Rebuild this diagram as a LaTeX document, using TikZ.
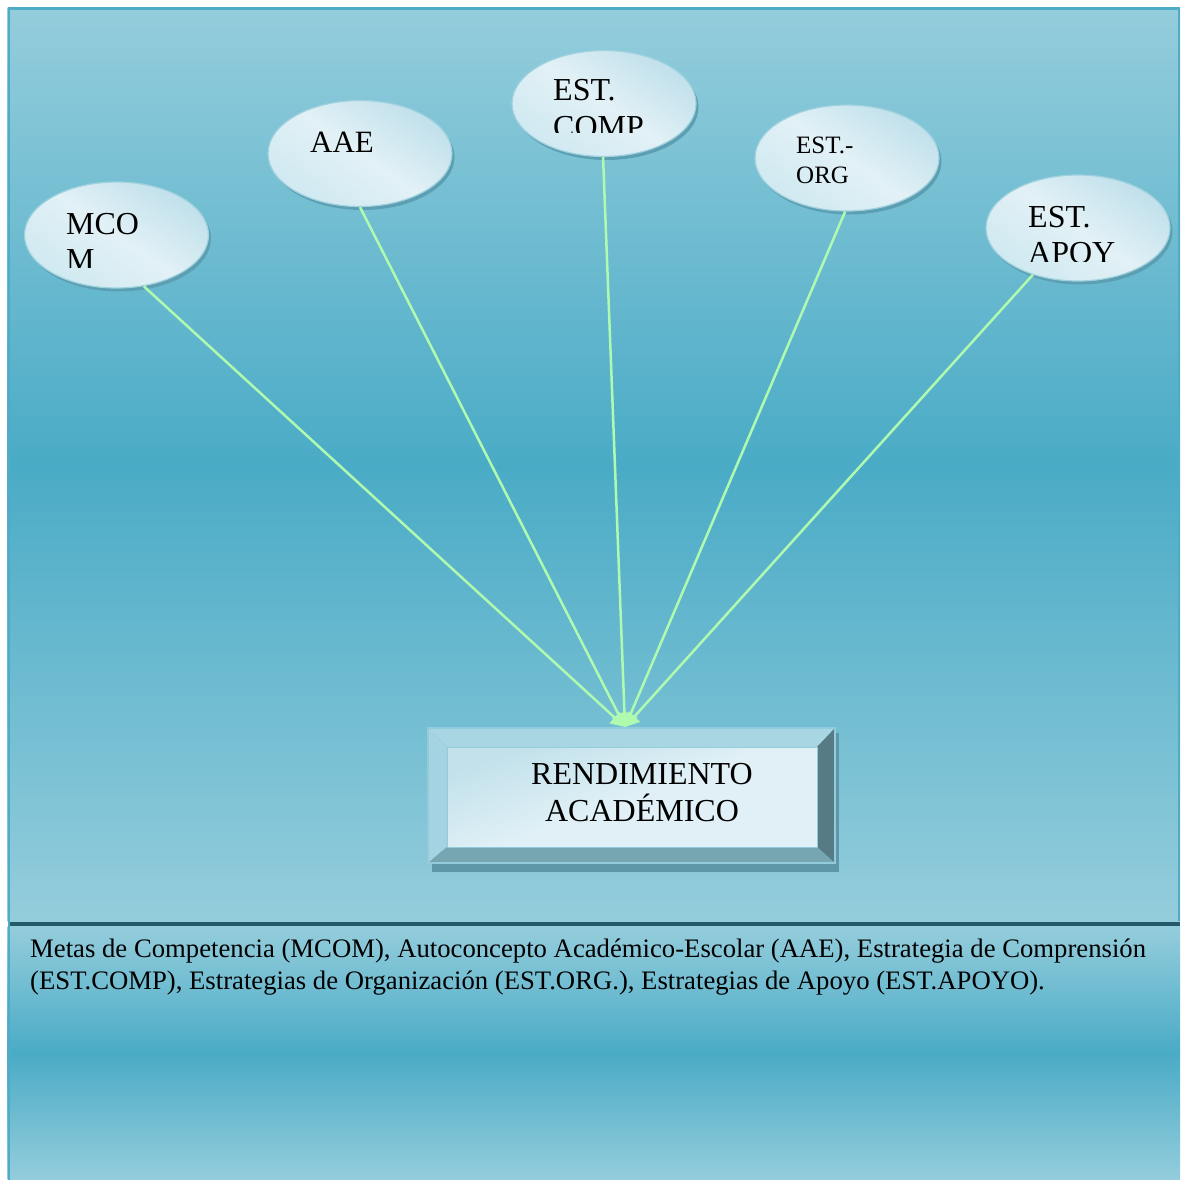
\documentclass[tikz,border=0pt]{standalone}
\usepackage{fontspec}
\setmainfont{Liberation Serif}
\usetikzlibrary{shapes.geometric,arrows.meta,shadows}

% palette
\definecolor{panelLight}{RGB}{148,205,220}
\definecolor{panelDark}{RGB}{74,171,198}
\definecolor{panelEdge}{RGB}{80,172,198}
\definecolor{sepDark}{RGB}{36,91,107}
\definecolor{ovalA}{RGB}{192,224,235}
\definecolor{ovalB}{RGB}{226,241,246}
\definecolor{ovalC}{RGB}{208,233,241}
\definecolor{ovalRim}{RGB}{160,209,223}
\definecolor{ovalShadow}{RGB}{92,158,178}
\definecolor{linkGreen}{RGB}{176,250,176}
\definecolor{bevTop}{RGB}{169,214,227}
\definecolor{bevLeft}{RGB}{165,211,225}
\definecolor{bevRight}{RGB}{86,123,132}
\definecolor{bevBottom}{RGB}{118,166,177}
\definecolor{boxShadow}{RGB}{94,152,168}
\definecolor{boxRim}{RGB}{146,204,220}
\definecolor{faceA}{RGB}{224,240,246}
\definecolor{faceB}{RGB}{194,225,235}

\begin{document}
\begin{tikzpicture}[x=1pt,y=-1pt,
  oval/.style={ellipse, minimum width=184pt, minimum height=106pt, inner sep=0pt,
    draw=ovalRim, line width=1.2pt,
    top color=ovalA, bottom color=ovalC, middle color=ovalB, shading angle=-35,
    general shadow={fill=ovalShadow, shadow xshift=2.5pt, shadow yshift=-3.5pt}},
  ovaltext/.style={anchor=base west, inner sep=0pt, align=left,
    font=\fontsize{32}{36}\selectfont},
  face/.style={rectangle, minimum width=370pt, minimum height=100pt, inner sep=0pt,
    draw=boxRim, line width=1pt,
    left color=faceB, right color=faceA, middle color=faceA, shading angle=20},
  link/.style={draw=linkGreen, line width=2.5pt, -{Triangle[length=14pt,width=15pt]}},
]
% page and panels
\fill[white] (0,0) rectangle (1180,1180);
\path[use as bounding box] (0,0) rectangle (1180,1180);
\shade[top color=panelLight, bottom color=panelLight, middle color=panelDark]
  (7.5,7.5) rectangle (1180,921);
\shade[top color=panelLight, bottom color=panelLight, middle color=panelDark]
  (7.5,926) rectangle (1180,1180);
\draw[panelEdge, line width=2.5pt] (8.75,1180) -- (8.75,8.75) -- (1180,8.75);
\draw[panelEdge, line width=2pt] (1179,8.75) -- (1179,921);
\fill[sepDark] (10,921.5) rectangle (1180,925.5);

% ovals
\node[oval] (mcom)  at (116.5,235) {};
\node[oval] (aae)   at (360,153.5) {};
\node[oval] (comp)  at (604,103.5) {};
\node[oval] (org)   at (847,158) {};
\node[oval] (apoyo) at (1078,228) {};

% oval labels (text boxes cut at their lower edge); anchors sit on the last baseline
\begin{scope}
  \clip (0,0) rectangle (1180,267);
  \node[ovaltext] (mcomtext) at (66,270) {MCO\\M};
\end{scope}
\node[ovaltext, font=\fontsize{31}{36}\selectfont] (aaetext) at (310,152) {AAE};
\begin{scope}
  \clip (0,0) rectangle (1180,133);
  \node[ovaltext] (comptext) at (553,137) {EST.\\COMP};
\end{scope}
\node[ovaltext, font=\fontsize{25}{30}\selectfont] (orgtext) at (796,183) {EST.-\\ORG};
\begin{scope}
  \clip (0,0) rectangle (1180,261);
  \node[ovaltext] (apoyotext) at (1028,263) {EST.\\APOY};
\end{scope}

% bevelled box
\fill[boxShadow] (432,733) rectangle (838.5,871.5);
\fill[bevTop]    (428,728) -- (835,728) -- (817,747) -- (447,747) -- cycle;
\fill[bevLeft]   (428,728) -- (447,747) -- (447,847) -- (428,863) -- cycle;
\fill[bevRight]  (835,728) -- (835,863) -- (817,847) -- (817,747) -- cycle;
\fill[bevBottom] (428,863) -- (447,847) -- (817,847) -- (835,863) -- cycle;
\draw[boxRim, line width=1.5pt] (428,728) rectangle (835,863);
\node[face] (ra) at (632,797) {};
\node[anchor=base, inner sep=0pt, align=center, font=\fontsize{32}{37}\selectfont]
  (ratext) at (642,821) {RENDIMIENTO\\ACADÉMICO};

% connectors
\coordinate (tip) at (625,727);
\draw[link] (mcom.-62)   -- (tip);
\draw[link] (aae.-90)    -- (tip);
\draw[link] (comp.-91)   -- (tip);
\draw[link] (org.-92)    -- (tip);
\draw[link] (apoyo.-134) -- (tip);

% legend
\node[anchor=base west, inner sep=0pt, align=left, font=\fontsize{26.7}{32}\selectfont]
  (legend) at (30,989) {Metas de Competencia (MCOM), Autoconcepto Académico-Escolar (AAE), Estrategia de Comprensión\\(EST.COMP), Estrategias de Organización (EST.ORG.), Estrategias de Apoyo (EST.APOYO).};
\end{tikzpicture}
\end{document}
